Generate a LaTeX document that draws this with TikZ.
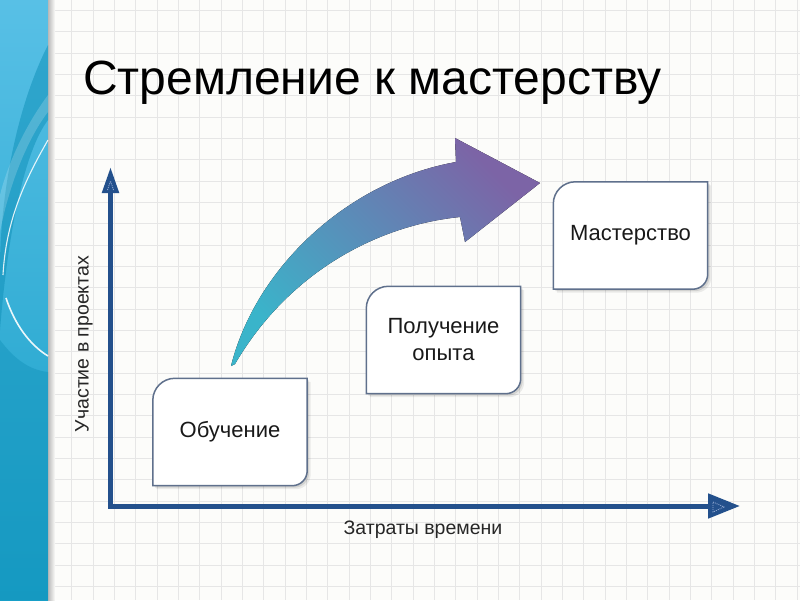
\documentclass[tikz,border=0pt]{standalone}
\usepackage{fontspec}
\setmainfont{Liberation Sans}
\usetikzlibrary{arrows.meta,calc}
\definecolor{bg}{RGB}{252,252,250}
\definecolor{gridc}{RGB}{230,230,230}
\definecolor{axisblue}{RGB}{35,80,140}
\definecolor{boxc}{RGB}{95,112,140}
\definecolor{arrA}{RGB}{58,180,202}
\definecolor{arrB}{RGB}{124,100,166}
\definecolor{bandtop}{RGB}{88,192,230}
\definecolor{bandbot}{RGB}{24,160,200}
\definecolor{banddark}{RGB}{18,146,186}
\newcommand\boxdraw[2]{%
 \path[#1] (#2.south west) -- ($(#2.north west)+(0,22)$)
   .. controls ($(#2.north west)+(0,9.9)$) and ($(#2.north west)+(9.9,0)$) .. ($(#2.north west)+(22,0)$)
   -- (#2.north east) -- ($(#2.south east)+(0,-15)$)
   .. controls ($(#2.south east)+(0,-6.7)$) and ($(#2.south east)+(-6.7,0)$) .. ($(#2.south east)+(-15,0)$)
   -- cycle;}
\newcommand\slidebox[1]{%
 \boxdraw{fill=black,opacity=0.07,transform canvas={shift={(3.5pt,-3.5pt)}}}{#1}
 \boxdraw{fill=black,opacity=0.10,transform canvas={shift={(2pt,-2pt)}}}{#1}
 \boxdraw{fill=white,draw=boxc,line width=1.5pt}{#1}}
\tikzset{
 gridline/.style={draw=gridc,line width=0.8pt},
 boxnode/.style={minimum width=154pt,minimum height=107pt,inner sep=0pt,font=\fontsize{22}{27}\selectfont,align=center,text=black!90},
 axis/.style={draw=axisblue,line width=5pt,line join=miter},
 tipdec/.style={draw={rgb,255:red,150;green,172;blue,212},line width=0.8pt,dash pattern=on 1pt off 1pt},
 axlabel/.style={font=\fontsize{19.5}{22}\selectfont,text=black!85},
}
\begin{document}
\begin{tikzpicture}[x=1pt,y=-1pt]
\useasboundingbox (0,0) rectangle (800,600);
\fill[bg] (0,0) rectangle (800,600);
% grid
\foreach \i in {0,...,35} \draw[gridline] (50.4+21.33*\i,0) -- (50.4+21.33*\i,600);
\foreach \j in {0,...,28} \draw[gridline] (48,10.4+21.33*\j) -- (800,10.4+21.33*\j);
% left band
\shade[top color=bandtop,bottom color=bandbot] (0,0) rectangle (48,600);
\shade[left color={rgb,255:red,185;green,185;blue,185},right color=bg] (48,0) rectangle (55,600);
\fill[banddark,opacity=0.55] (48,45) .. controls (20,100) and (2,180) .. (0,260) -- (0,330)
   .. controls (8,230) and (25,150) .. (48,120) -- cycle;
\fill[white,opacity=0.18] (48,95) .. controls (22,130) and (6,170) .. (0,195) -- (0,232)
   .. controls (10,180) and (30,135) .. (48,112) -- cycle;
\fill[banddark,opacity=0.45] (0,340) .. controls (15,360) and (30,370) .. (48,372) -- (48,600) -- (0,600) -- cycle;
\draw[white,opacity=0.85,line width=1.1pt] (48,140) .. controls (25,180) and (6,220) .. (3,275);
\draw[white,opacity=0.9,line width=1.6pt] (6,298) .. controls (15,325) and (30,345) .. (48,356);
% title
\node[anchor=base west,inner sep=0pt,font=\fontsize{48}{52}\selectfont] (title) at (83,94) {Стремление к мастерству};
% curved arrow
\coordinate (tail) at (231,366);
\fill[left color=arrA,right color=arrB,shading angle=135]
  (tail) .. controls (255,270) and (345,182) .. (456,162)
  -- (455,138) -- (540,183) -- (465,242) -- (460,217)
  .. controls (380,225) and (290,270) .. (235,364) -- cycle;
% axes
\coordinate (O) at (110.5,506);
\coordinate (ytop) at (110.5,167);
\coordinate (xend) at (740,506);
\draw[axis,{Triangle[length=26pt,width=16pt]}-{Triangle[length=32pt,width=24pt]}] (ytop) -- (O) -- (xend);
\draw[tipdec] (107.5,190) -- (110.5,181) -- (113.5,190);
\draw[tipdec] (713,502) -- (724,507) -- (713,512) -- cycle;
\node[axlabel,rotate=90] (ylab) at (84,344) {Участие в проектах};
\node[axlabel] (xlab) at (423,530) {Затраты времени};
% boxes
\node[boxnode] (ob) at (230,432) {};
\node[boxnode] (op) at (443.5,340) {};
\node[boxnode] (ma) at (630.5,235.5) {};
\slidebox{ob}
\slidebox{op}
\slidebox{ma}
\node[boxnode] (obt) at (ob.center) {Обучение};
\node[boxnode] (opt) at (op.center) {Получение\\опыта};
\node[boxnode] (mat) at (ma.center) {Мастерство};
\end{tikzpicture}
\end{document}
